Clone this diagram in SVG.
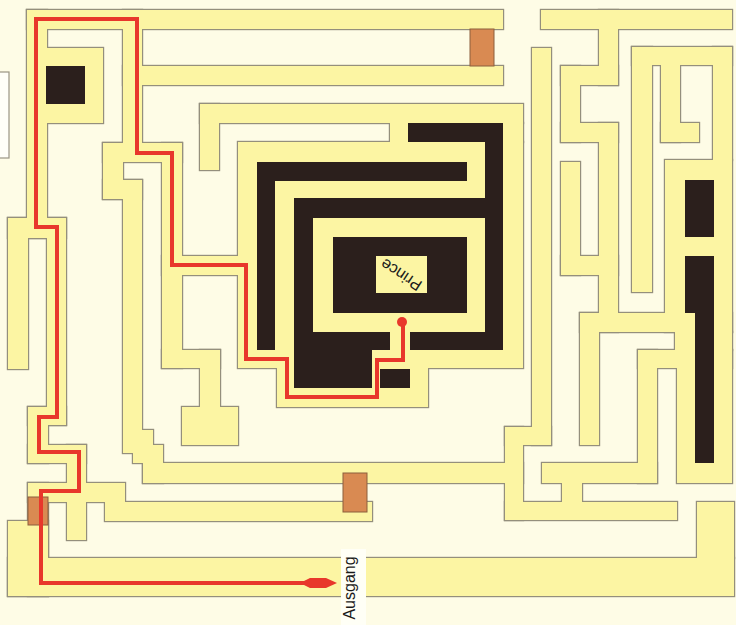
<svg xmlns="http://www.w3.org/2000/svg" xmlns:xlink="http://www.w3.org/1999/xlink" width="736" height="625" viewBox="0 0 736 625">
<style>
.blk{fill:#2b1f1c}
.door{fill:#d98a52;stroke:#8b5e3c;stroke-width:1}
.lbl{font-family:"Liberation Sans",Arial,sans-serif;font-size:16px;fill:#1a1a1a}
</style>
<defs>
<g id="Y">
<rect x="27" y="10" width="476" height="19"/>
<rect x="27" y="10" width="20" height="228"/>
<rect x="47" y="48" width="56" height="75"/>
<rect x="123" y="10" width="19" height="133"/>
<rect x="123" y="66" width="380" height="19"/>
<rect x="103" y="143" width="79" height="19"/>
<rect x="103" y="143" width="20" height="56"/>
<rect x="103" y="180" width="39" height="19"/>
<rect x="123" y="180" width="19" height="273"/>
<rect x="133" y="430" width="20" height="33"/>
<rect x="143" y="445" width="20" height="38"/>
<rect x="143" y="463" width="380" height="20"/>
<rect x="162" y="143" width="20" height="225"/>
<rect x="162" y="350" width="58" height="18"/>
<rect x="200" y="350" width="20" height="57"/>
<rect x="182" y="407" width="56" height="38"/>
<rect x="162" y="256" width="76" height="19"/>
<rect x="200" y="104" width="323" height="19"/>
<rect x="200" y="104" width="19" height="66"/>
<rect x="390" y="123" width="133" height="19"/>
<rect x="238" y="142" width="285" height="226"/>
<rect x="277" y="368" width="151" height="39"/>
<rect x="8" y="218" width="58" height="20"/>
<rect x="8" y="218" width="20" height="151"/>
<rect x="47" y="218" width="19" height="207"/>
<rect x="28" y="407" width="38" height="18"/>
<rect x="28" y="407" width="20" height="56"/>
<rect x="28" y="445" width="58" height="18"/>
<rect x="67" y="445" width="19" height="38"/>
<rect x="28" y="483" width="97" height="19"/>
<rect x="105" y="502" width="267" height="19"/>
<rect x="67" y="502" width="19" height="38"/>
<rect x="28" y="483" width="20" height="113"/>
<rect x="8" y="521" width="40" height="75"/>
<rect x="8" y="558" width="726" height="38"/>
<rect x="697" y="502" width="37" height="56"/>
<rect x="532" y="48" width="19" height="397"/>
<rect x="505" y="427" width="46" height="18"/>
<rect x="505" y="427" width="18" height="93"/>
<rect x="505" y="502" width="172" height="18"/>
<rect x="542" y="463" width="115" height="20"/>
<rect x="562" y="482" width="20" height="20"/>
<rect x="638" y="350" width="19" height="133"/>
<rect x="638" y="350" width="94" height="18"/>
<rect x="677" y="350" width="55" height="133"/>
<rect x="675" y="332" width="57" height="18"/>
<rect x="580" y="313" width="152" height="19"/>
<rect x="580" y="313" width="19" height="132"/>
<rect x="665" y="160" width="67" height="172"/>
<rect x="632" y="47" width="100" height="18"/>
<rect x="632" y="47" width="20" height="245"/>
<rect x="713" y="47" width="19" height="113"/>
<rect x="661" y="65" width="19" height="77"/>
<rect x="661" y="123" width="38" height="19"/>
<rect x="541" y="10" width="191" height="19"/>
<rect x="599" y="10" width="19" height="75"/>
<rect x="561" y="66" width="57" height="19"/>
<rect x="561" y="66" width="19" height="76"/>
<rect x="561" y="123" width="57" height="19"/>
<rect x="599" y="123" width="19" height="209"/>
<rect x="561" y="162" width="19" height="113"/>
<rect x="561" y="256" width="57" height="19"/>
</g>
</defs>
<rect x="0" y="0" width="736" height="625" fill="#fefce6"/>
<rect x="-1" y="72" width="10" height="86" fill="#fffff8" stroke="#9a9584" stroke-width="1.2"/>
<g id="maze">
<use xlink:href="#Y" fill="none" stroke="#948f7c" stroke-width="2.4"/>
<use xlink:href="#Y" fill="#fcf5a3" stroke="none"/>
</g>
<g id="blocks">
<rect class="blk" x="46" y="66" width="39" height="38"/>
<rect class="blk" x="408" y="123" width="95" height="19"/>
<rect class="blk" x="485" y="123" width="18" height="227"/>
<rect class="blk" x="257" y="162" width="210" height="19"/>
<rect class="blk" x="257" y="162" width="18" height="188"/>
<rect class="blk" x="294" y="198" width="191" height="20"/>
<rect class="blk" x="294" y="198" width="19" height="190"/>
<rect class="blk" x="294" y="332" width="96" height="18"/>
<rect class="blk" x="294" y="350" width="78" height="38"/>
<rect class="blk" x="410" y="332" width="93" height="18"/>
<rect class="blk" x="380" y="369" width="30" height="19"/>
<rect class="blk" x="333" y="237" width="134" height="76"/>
<rect x="376" y="256" width="51" height="37" fill="#fcf5a3"/>
<rect class="blk" x="685" y="180" width="29" height="57"/>
<rect class="blk" x="685" y="256" width="29" height="57"/>
<rect class="blk" x="695" y="313" width="19" height="150"/>
</g>
<g id="doors">
<rect class="door" x="470" y="29" width="24" height="37"/>
<rect class="door" x="343" y="473" width="24" height="39"/>
<rect class="door" x="28" y="497" width="20" height="28"/>
</g>
<g id="path">
<polyline points="403,322 403,360 377,360 377,397 287,397 287,359 246,359 246,265 172,265 172,153 137,153 137,19 36,19 36,227 57,227 57,417 39,417 39,452 79,452 79,491 41,491 41,583 306,583" fill="none" stroke="#e8372b" stroke-width="4"/>
<circle cx="402" cy="322" r="5" fill="#e8372b"/>
<polygon points="304,581 310,578 326,578 337,583 326,588 310,588 304,585" fill="#e8372b"/>
</g>
<g id="labels">
<rect x="341" y="549" width="25" height="76" fill="#fffff6"/>
<text class="lbl" transform="translate(355,588) rotate(-90)" text-anchor="middle">Ausgang</text>
<text class="lbl" transform="translate(401,275) rotate(213)" text-anchor="middle" dy="0.36em">Prince</text>
</g>
</svg>
